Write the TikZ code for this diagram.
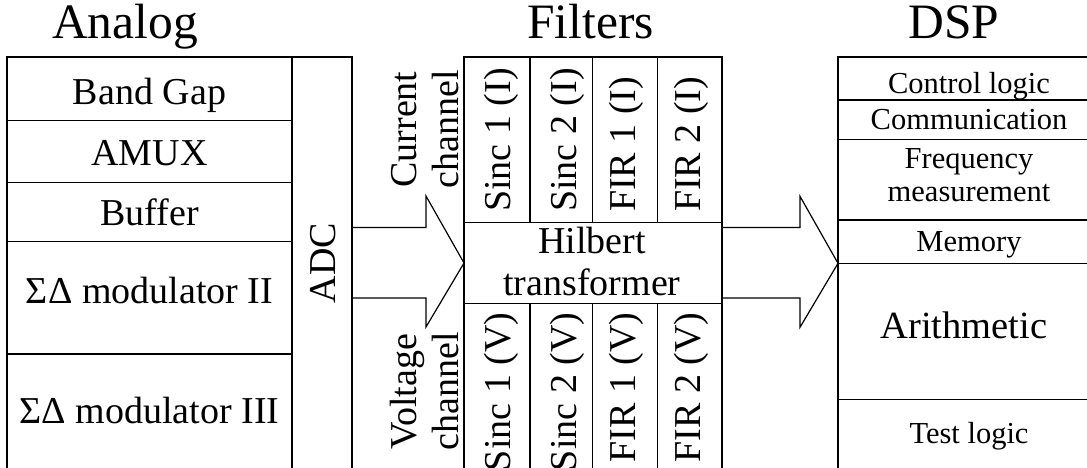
\documentclass[tikz,border=0pt]{standalone}
\usepackage{fontspec}
\setmainfont{Liberation Serif}
\usetikzlibrary{calc}
\begin{document}
\begin{tikzpicture}[x=1pt,y=-1pt,
  blk/.style={draw, line width=1.2pt, inner sep=0pt, outer sep=0pt, anchor=north west},
  lbl/.style={inner sep=0pt, anchor=base, font=\fontsize{38}{42}\selectfont},
  small/.style={lbl, font=\fontsize{30.5}{33}\selectfont},
  big/.style={lbl, font=\fontsize{38.5}{42}\selectfont},
  heading/.style={lbl, font=\fontsize{49.5}{54}\selectfont},
  vlbl/.style={lbl, rotate=90},
  fatarrow/.style={draw, line width=1.2pt, line join=miter}]
\useasboundingbox (0,0) rectangle (1087,468);

% ---------------- headings ----------------
\node[heading] (h-analog)  at (125,39)   {Analog};
\node[heading] (h-filters) at (590.5,39) {Filters};
\node[heading] (h-dsp)     at (954,39)   {DSP};

% ---------------- analog front end ----------------
\node[blk, minimum width=285pt, minimum height=63.7pt] (bandgap) at (7,57) {};
\node[blk, minimum width=285pt, minimum height=62pt]   (amux)    at (7,120.7) {};
\node[blk, minimum width=285pt, minimum height=59pt]   (buffer)  at (7,182.7) {};
\node[blk, minimum width=285pt, minimum height=112.3pt] (sdm2)   at (7,241.7) {};
\node[blk, minimum width=285pt, minimum height=140pt]  (sdm3)    at (7,354) {};
\node[blk, minimum width=60pt,  minimum height=437pt]  (adc)     at (292,57) {};

\node[lbl] (t-bandgap) at (149.5,105)   {Band Gap};
\node[lbl] (t-amux)    at (149.5,165)   {AMUX};
\node[lbl] (t-buffer)  at (149.5,225)   {Buffer};
\node[lbl] (t-sdm2)    at (149.5,303.3) {ΣΔ modulator II};
\node[lbl] (t-sdm3)    at (149.5,423.3) {ΣΔ modulator III};
\node[vlbl] (t-adc)    at (335,263)     {ADC};

% ---------------- filter bank ----------------
\node[blk, minimum width=66pt,   minimum height=165.7pt] (s1i) at (464,57) {};
\node[blk, minimum width=62.3pt, minimum height=165.7pt] (s2i) at (530,57) {};
\node[blk, minimum width=65pt,   minimum height=165.7pt] (f1i) at (592.3,57) {};
\node[blk, minimum width=64.7pt, minimum height=165.7pt] (f2i) at (657.3,57) {};
\node[blk, minimum width=258pt,  minimum height=80.6pt]  (hilbert) at (464,222.7) {};
\node[blk, minimum width=66pt,   minimum height=190pt] (s1v) at (464,303.3) {};
\node[blk, minimum width=62.3pt, minimum height=190pt] (s2v) at (530,303.3) {};
\node[blk, minimum width=65pt,   minimum height=190pt] (f1v) at (592.3,303.3) {};
\node[blk, minimum width=64.7pt, minimum height=190pt] (f2v) at (657.3,303.3) {};

\node[vlbl, anchor=base west] (t-s1i) at (510.5,212) {Sinc 1 (I)};
\node[vlbl, anchor=base west] (t-s2i) at (576,212)   {Sinc 2 (I)};
\node[vlbl, anchor=base west] (t-f1i) at (635.5,212) {FIR 1 (I)};
\node[vlbl, anchor=base west] (t-f2i) at (700.5,212) {FIR 2 (I)};
\node[vlbl, anchor=base east] (t-s1v) at (510.5,312.5) {Sinc 1 (V)};
\node[vlbl, anchor=base east] (t-s2v) at (576,312.5)   {Sinc 2 (V)};
\node[vlbl, anchor=base east] (t-f1v) at (635.5,312.5) {FIR 1 (V)};
\node[vlbl, anchor=base east] (t-f2v) at (700.5,312.5) {FIR 2 (V)};

\node[lbl] (t-hilbert1) at (592,253.3) {Hilbert};
\node[lbl] (t-hilbert2) at (592,295)   {transformer};

\node[vlbl] (t-cur1) at (416.5,129.5) {Current};
\node[vlbl] (t-cur2) at (458,129.5)   {channel};
\node[vlbl] (t-vol1) at (416.5,391.5) {Voltage};
\node[vlbl] (t-vol2) at (458,391.5)   {channel};

% ---------------- DSP ----------------
\node[blk, minimum width=262pt, minimum height=43pt]   (ctrl)  at (838,57) {};
\node[blk, minimum width=262pt, minimum height=39.3pt] (comm)  at (838,100) {};
\node[blk, minimum width=262pt, minimum height=80.7pt] (freq)  at (838,139.3) {};
\node[blk, minimum width=262pt, minimum height=43.3pt] (mem)   at (838,220) {};
\node[blk, minimum width=262pt, minimum height=136pt]  (arith) at (838,263.3) {};
\node[blk, minimum width=262pt, minimum height=90pt]   (test)  at (838,399.3) {};

\node[small] (t-ctrl)  at (969,94)    {Control logic};
\node[small] (t-comm)  at (969,130)   {Communication};
\node[small] (t-freq1) at (969,168.3) {Frequency};
\node[small] (t-freq2) at (969,201.7) {measurement};
\node[small] (t-mem)   at (969,251.7) {Memory};
\node[big]   (t-arith) at (964,338.3) {Arithmetic};
\node[small] (t-test)  at (969,443.3) {Test logic};

% ---------------- block arrows ----------------
\draw[fatarrow] ($(adc.east |- hilbert.west)+(0,-35.5)$)
  -| ($(hilbert.west)+(-38,-67)$) -- (hilbert.west)
  -- ($(hilbert.west)+(-38,64)$) |- ($(adc.east |- hilbert.west)+(0,35)$);
\draw[fatarrow] ($(hilbert.east)+(0,-35.5)$)
  -| ($(mem.south west)+(-38,-67)$) -- (mem.south west)
  -- ($(mem.south west)+(-38,64)$) |- ($(hilbert.east)+(0,35)$);
\end{tikzpicture}
\end{document}
